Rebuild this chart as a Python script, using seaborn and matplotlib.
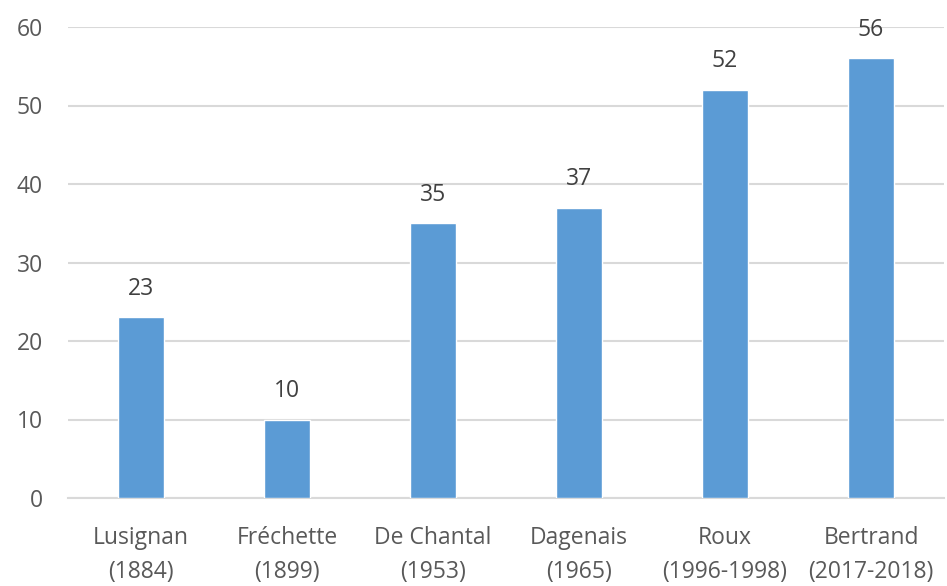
import matplotlib
matplotlib.use("Agg")
import matplotlib.pyplot as plt
import seaborn as sns
import pandas as pd

names = ["Lusignan\n(1884)", "Fréchette\n(1899)", "De Chantal\n(1953)",
         "Dagenais\n(1965)", "Roux\n(1996-1998)", "Bertrand\n(2017-2018)"]
values = [23, 10, 35, 37, 52, 56]

sns.set_theme(style="white")
plt.rcParams['font.family'] = ['Open Sans', 'DejaVu Sans']

df = pd.DataFrame({"name": names, "value": values})

fig = plt.figure(figsize=(9.47, 5.86), dpi=100)
ax = fig.add_axes([68 / 947, 1 - 498 / 586, (944 - 68) / 947, (498 - 27) / 586])

sns.barplot(data=df, x="name", y="value", color="#5B9BD5", saturation=1,
            width=0.32, ax=ax, zorder=3)

ax.set_ylim(0, 60)
ax.set_yticks(range(0, 61, 10))
ax.yaxis.grid(True, color="#D9D9D9", linewidth=1.5, zorder=0)
ax.set_xlabel("")
ax.set_ylabel("")
for side in ["top", "right", "left"]:
    ax.spines[side].set_visible(False)
ax.spines["bottom"].set_color("#D9D9D9")
ax.spines["bottom"].set_linewidth(1.5)
ax.tick_params(axis="y", length=0, pad=18, labelsize=16.5, labelcolor="#595959")
ax.tick_params(axis="x", length=0, pad=20, labelsize=16.5, labelcolor="#595959")
for lbl in ax.get_xticklabels():
    lbl.set_linespacing(1.55)

ax.bar_label(ax.containers[0], fmt="%d", padding=12, fontsize=16.5, color="#404040")

fig.savefig("out.png", dpi=100)
